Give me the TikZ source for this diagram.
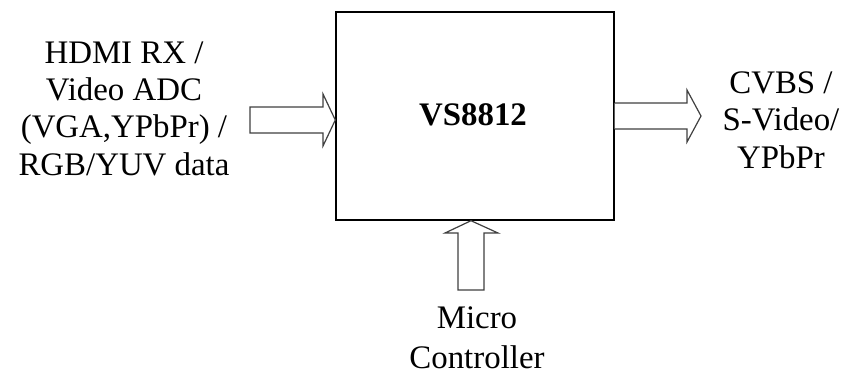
\documentclass[tikz,border=0pt]{standalone}
\usepackage{fontspec}
\setmainfont{Liberation Serif}
\begin{document}
\begin{tikzpicture}[x=1bp,y=-1bp,
  lbl/.style={align=center,inner sep=0pt,font=\fontsize{33}{37.3}\selectfont},
  blockarrow/.style={draw=black!75,line width=1.2bp,fill=white,line join=miter},
  chip/.style={draw=black,line width=1.4bp,minimum width=278bp,minimum height=208bp,inner sep=0pt}]
\useasboundingbox (0,0) rectangle (852,376);
\node[chip] (box) at (475,116) {};
\node[inner sep=0pt,font=\fontsize{33}{33}\selectfont\bfseries,anchor=base] (title) at (473,125) {VS8812};
% input arrow
\draw[blockarrow] (250,107) -- (323,107) -- (323,94) -- (box.west |- 0,120) -- (323,146) -- (323,133) -- (250,133) -- cycle;
% output arrow
\draw[blockarrow] (box.east |- 0,103) -- (687,103) -- (687,90) -- (701,116) -- (687,142) -- (687,129) -- (box.east |- 0,129);
% controller arrow
\draw[blockarrow] (458,290) -- (458,233) -- (445,233) -- (box.south -| 471,0) -- (498,233) -- (484,233) -- (484,290) -- cycle;
\node[lbl,anchor=base] (inp) at (124,175) {HDMI RX /\\Video ADC\\(VGA,YPbPr) /\\RGB/YUV data};
\node[lbl,anchor=base] (outp) at (781,168) {CVBS /\\S-Video/\\YPbPr};
\node[lbl,anchor=base,font=\fontsize{33}{39.5}\selectfont] (mcu) at (477,368) {Micro\\Controller};
\end{tikzpicture}
\end{document}
